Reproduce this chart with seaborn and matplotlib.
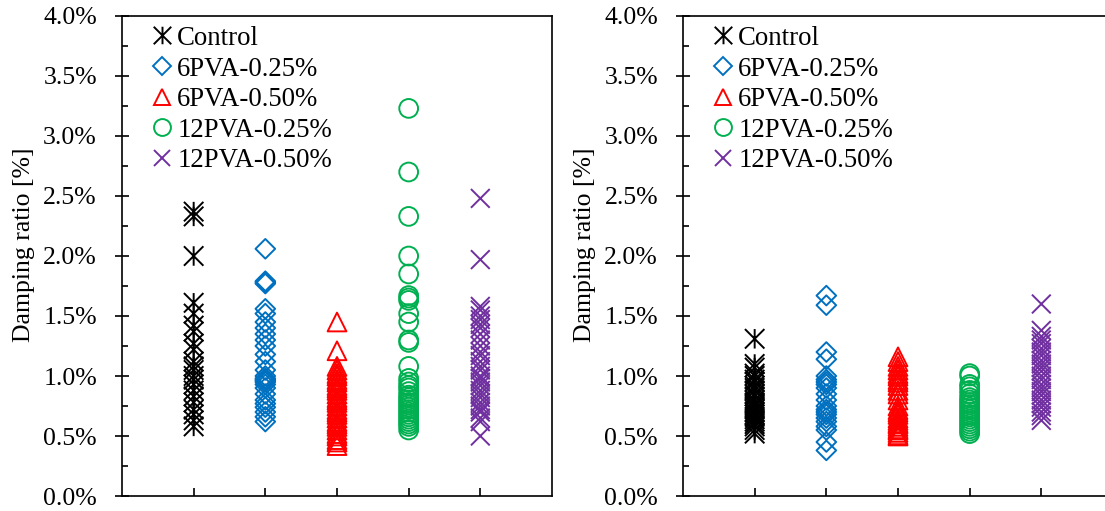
import numpy as np
import pandas as pd
import seaborn as sns
import matplotlib
matplotlib.use('Agg')
import matplotlib.pyplot as plt
from matplotlib.path import Path
from matplotlib.lines import Line2D
from matplotlib.ticker import FuncFormatter, MultipleLocator

plt.rcParams['font.family'] = ['Liberation Serif', 'DejaVu Serif']

# 그룹 / 색 / 마커
groups = ['Control', '6PVA-0.25%', '6PVA-0.50%', '12PVA-0.25%', '12PVA-0.50%']
colors = ['#000000', '#0070C0', '#FF0000', '#00B050', '#7030A0']

# 별표 마커 (x + 세로선)
star = Path([(-1, -1), (1, 1), (-1, 1), (1, -1), (0, -1), (0, 1)],
            [Path.MOVETO, Path.LINETO, Path.MOVETO, Path.LINETO, Path.MOVETO, Path.LINETO])
markers = [star, 'D', '^', 'o', 'x']
sizes = [14, 10, 13.5, 13.5, 13.5]

# 왼쪽 그래프 데이터 (damping ratio, %)
left_control = [2.37, 2.33, 2.0, 1.61, 1.52, 1.42, 1.37, 1.27, 1.22, 1.12, 1.08, 1.05,
                1.0, 0.97, 0.93, 0.88, 0.83, 0.78, 0.72, 0.68, 0.63, 0.58]
left_6pva025 = [2.06, 1.79, 1.78, 1.77, 1.56, 1.52, 1.45, 1.40, 1.35, 1.30, 1.25, 1.18,
                1.12, 1.05, 1.0, 0.98, 0.97, 0.96, 0.95, 0.93, 0.9, 0.85, 0.8, 0.77,
                0.74, 0.7, 0.66, 0.62]
left_6pva050 = [1.45, 1.21, 1.08, 1.05, 1.02, 1.0, 0.97, 0.95, 0.92, 0.9, 0.88, 0.85,
                0.82, 0.8, 0.78, 0.75, 0.72, 0.7, 0.68, 0.65, 0.62, 0.6, 0.58, 0.55,
                0.52, 0.5, 0.47, 0.45, 0.42]
left_12pva025 = [3.23, 2.70, 2.33, 2.0, 1.85, 1.67, 1.65, 1.63, 1.52, 1.45, 1.3, 1.28,
                 1.08, 0.98, 0.95, 0.92, 0.9, 0.87, 0.84, 0.82, 0.8, 0.78, 0.76, 0.74,
                 0.72, 0.7, 0.68, 0.66, 0.64, 0.62, 0.6, 0.58, 0.55]
left_12pva050 = [2.48, 1.97, 1.58, 1.55, 1.5, 1.47, 1.43, 1.4, 1.35, 1.3, 1.25, 1.2,
                 1.17, 1.12, 1.08, 1.05, 1.0, 0.98, 0.95, 0.92, 0.88, 0.85, 0.82, 0.78,
                 0.75, 0.72, 0.7, 0.65, 0.62, 0.5]

# 오른쪽 그래프 데이터
right_control = [1.31, 1.1, 1.07, 1.02, 1.0, 0.97, 0.95, 0.92, 0.9, 0.88, 0.85, 0.83,
                 0.8, 0.78, 0.76, 0.74, 0.72, 0.7, 0.68, 0.66, 0.64, 0.62, 0.6, 0.58,
                 0.55, 0.52]
right_6pva025 = [1.67, 1.59, 1.2, 1.14, 1.0, 0.97, 0.95, 0.93, 0.9, 0.85, 0.8, 0.75,
                 0.72, 0.7, 0.68, 0.65, 0.62, 0.58, 0.55, 0.45, 0.38]
right_6pva050 = [1.16, 1.12, 1.08, 1.05, 1.02, 1.0, 0.97, 0.95, 0.92, 0.88, 0.85, 0.8,
                 0.75, 0.72, 0.7, 0.68, 0.65, 0.63, 0.61, 0.6, 0.58, 0.56, 0.55, 0.53,
                 0.51, 0.5]
right_12pva025 = [1.02, 1.0, 0.93, 0.91, 0.88, 0.85, 0.82, 0.8, 0.78, 0.76, 0.74, 0.72,
                  0.7, 0.68, 0.66, 0.64, 0.62, 0.6, 0.58, 0.56, 0.54, 0.52]
right_12pva050 = [1.6, 1.38, 1.33, 1.3, 1.27, 1.23, 1.2, 1.17, 1.13, 1.1, 1.07, 1.04,
                  1.0, 0.97, 0.93, 0.9, 0.87, 0.84, 0.8, 0.77, 0.74, 0.7, 0.67, 0.63]

left_data = [left_control, left_6pva025, left_6pva050, left_12pva025, left_12pva050]
right_data = [right_control, right_6pva025, right_6pva050, right_12pva025, right_12pva050]

fs = 18.5
fig = plt.figure(figsize=(11.05, 5.11), dpi=100)
ax1 = fig.add_axes([122 / 1105, 15 / 511, 430 / 1105, 480 / 511])
ax2 = fig.add_axes([683 / 1105, 15 / 511, 430 / 1105, 480 / 511])


def draw_panel(ax, data):
    for g, vals, c, m, s in zip(groups, data, colors, markers, sizes):
        n0 = len(ax.collections)
        sns.stripplot(x=[g] * len(vals), y=vals, order=groups, jitter=False,
                      marker=m, size=s, color=c, linewidth=1.4, ax=ax, zorder=3)
        # 새로 생긴 collection 모두 속이 빈 마커로
        for coll in ax.collections[n0:]:
            if len(coll.get_offsets()) == 0:
                coll.set_visible(False)
                continue
            coll.set_facecolor('none')
            coll.set_edgecolor(c)
            coll.set_linewidth(1.4)

    ax.set_xlim(-1, 5)
    ax.set_ylim(0, 4.0)
    ax.set_xticks(range(5))
    ax.set_xticklabels([])
    ax.set_xlabel('')
    ax.yaxis.set_major_locator(MultipleLocator(0.5))
    ax.yaxis.set_minor_locator(MultipleLocator(0.25))
    ax.yaxis.set_major_formatter(FuncFormatter(lambda v, p: f'{v:.1f}%'))
    ax.tick_params(axis='y', which='major', direction='inout', length=10, width=1.2,
                   labelsize=fs, pad=13)
    ax.tick_params(axis='y', which='minor', direction='in', length=4.5, width=1.2)
    ax.tick_params(axis='x', which='major', direction='in', length=5.5, width=1.2)
    for sp in ax.spines.values():
        sp.set_linewidth(1.2)
    ax.set_ylabel('Damping ratio [%]', fontsize=fs)
    ax.yaxis.set_label_coords(-0.202, 0.523)

    handles = [Line2D([], [], linestyle='none', marker=m, markersize=s * 0.9,
                      markerfacecolor='none', markeredgecolor=c, markeredgewidth=1.4)
               for m, s, c in zip(markers, sizes, colors)]
    ax.legend(handles, groups, loc='upper left', bbox_to_anchor=(0.065, 0.985),
              frameon=False, fontsize=19.3, handlelength=0.7, handletextpad=0.22,
              labelspacing=0.21, borderpad=0.1, borderaxespad=0)


draw_panel(ax1, left_data)
draw_panel(ax2, right_data)

fig.savefig('out.png', dpi=100)
